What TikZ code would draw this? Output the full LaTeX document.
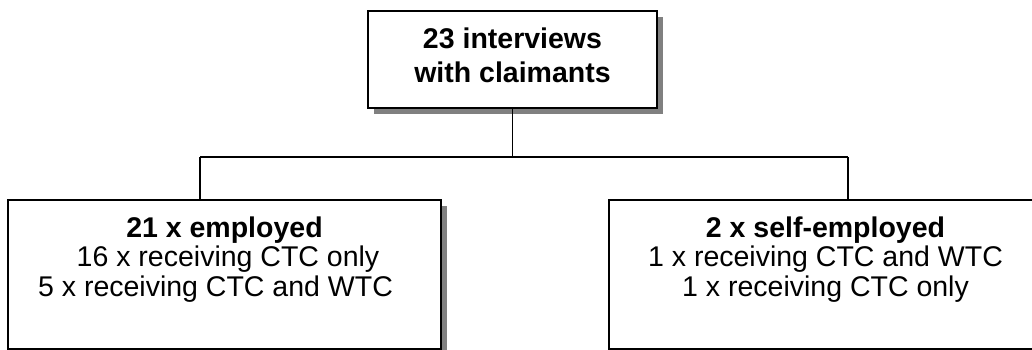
\documentclass[tikz,border=0pt]{standalone}
\usepackage{fontspec}
\setmainfont{Liberation Sans}
\usetikzlibrary{shadows}
\definecolor{shadowgray}{RGB}{128,128,128}
\tikzset{
  box/.style={draw, line width=1pt, fill=white, inner sep=0pt,
    drop shadow={shadow xshift=3pt, shadow yshift=-3pt, fill=shadowgray, opacity=1}},
  conn/.style={line width=0.9pt}
}
\newcommand{\boxfont}{\fontsize{14.25}{14.75}\selectfont}
\begin{document}
\begin{tikzpicture}[x=0.5pt,y=-0.5pt]
\useasboundingbox (0,0) rectangle (1032,349);
\clip (0,0) rectangle (1032,349);
\node[box, anchor=north] (top) at (512.5,10)
  {\parbox[t][48.5pt][t]{144.5pt}{\fontsize{14.25}{17}\selectfont\bfseries\centering\vspace*{8.4pt}%
  23 interviews\\with claimants\par}};
\node[box, anchor=north] (emp) at (224.5,199)
  {\parbox[t][74.5pt][t]{216.5pt}{\boxfont\centering\vspace*{8.4pt}%
  \textbf{21 x employed}\\
  \hspace*{3.5pt}16 x receiving CTC only\\
  5 x receiving CTC and WTC\hspace*{9pt}\par}};
\node[box, anchor=north] (self) at (825.5,199)
  {\parbox[t][74.5pt][t]{216.5pt}{\boxfont\centering\vspace*{8.4pt}%
  \textbf{2 x self-employed}\\
  1 x receiving CTC and WTC\\
  1 x receiving CTC only\par}};
\coordinate (j) at (512.5,157);
\coordinate (jl) at (200,157);
\coordinate (jr) at (848,157);
\draw[conn] (top.south) -- (j);
\draw[conn] (jl) -- (jr);
\draw[conn] (jl) -- (jl |- emp.north);
\draw[conn] (jr) -- (jr |- self.north);
\end{tikzpicture}
\end{document}
